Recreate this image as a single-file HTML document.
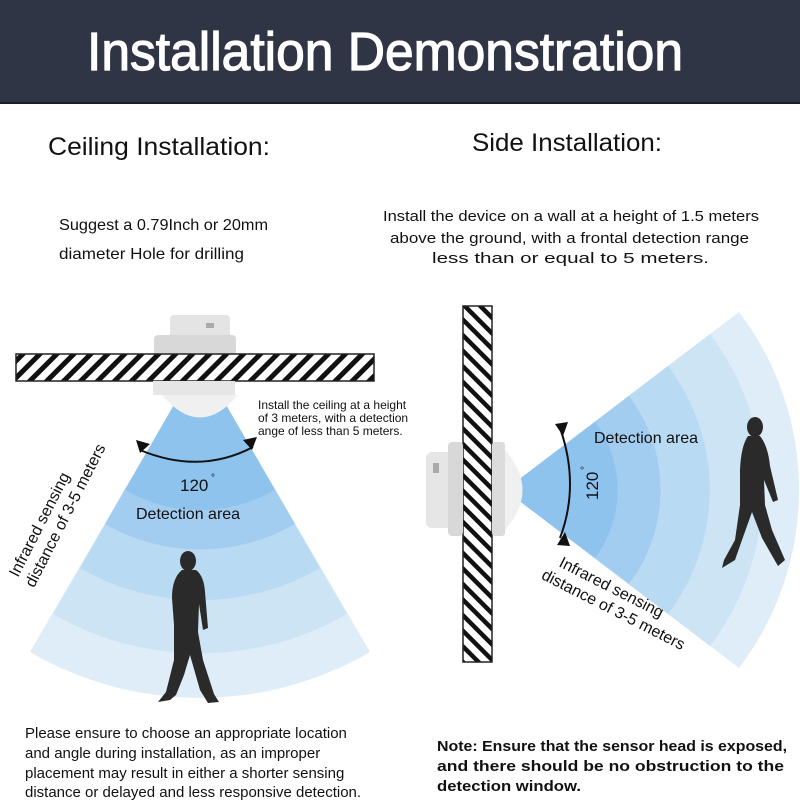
<!DOCTYPE html>
<html><head><meta charset="utf-8"><style>
html,body{margin:0;padding:0;background:#fff}
svg{display:block}
text{font-family:"Liberation Sans",sans-serif;fill:#111}
</style></head><body>
<svg width="800" height="800" viewBox="0 0 800 800" xmlns="http://www.w3.org/2000/svg">
<defs>
<pattern id="h1" width="12" height="12" patternUnits="userSpaceOnUse" patternTransform="rotate(45)">
<rect width="12" height="12" fill="#fff"/><rect width="5" height="12" fill="#111"/></pattern>
<pattern id="h2" width="11" height="11" patternUnits="userSpaceOnUse" patternTransform="rotate(-45)">
<rect width="11" height="11" fill="#fff"/><rect width="4.5" height="11" fill="#111"/></pattern>
</defs>
<rect x="0" y="0" width="800" height="103" fill="#303545"/>
<rect x="0" y="102" width="800" height="2" fill="#1a1d2a"/>
<text x="87" y="70" font-size="54" fill="#fff" style="fill:#fff;stroke:#fff;stroke-width:1.2" textLength="596" lengthAdjust="spacingAndGlyphs">Installation Demonstration</text>

<text x="48" y="155" font-size="25" textLength="222" lengthAdjust="spacingAndGlyphs">Ceiling Installation:</text>
<text x="472" y="151" font-size="25" textLength="190" lengthAdjust="spacingAndGlyphs">Side Installation:</text>
<text x="59" y="230" font-size="16" textLength="209" lengthAdjust="spacingAndGlyphs">Suggest a 0.79Inch or 20mm</text>
<text x="59" y="259" font-size="16" textLength="185" lengthAdjust="spacingAndGlyphs">diameter Hole for drilling</text>
<text x="383" y="221" font-size="15" textLength="376" lengthAdjust="spacingAndGlyphs">Install the device on a wall at a height of 1.5 meters</text>
<text x="390" y="243" font-size="15" textLength="359" lengthAdjust="spacingAndGlyphs">above the ground, with a frontal detection range</text>
<text x="432" y="263" font-size="15" textLength="277" lengthAdjust="spacingAndGlyphs">less than or equal to 5 meters.</text>

<!-- ceiling fan -->
<g transform="translate(200,360)">
<path d="M0 0 L-170 292 A338 338 0 0 0 170 292 Z" fill="#dfedf8"/>
<path d="M0 0 L-147 254 A294 294 0 0 0 147 254 Z" fill="#cde4f5"/>
<path d="M0 0 L-120 208 A240 240 0 0 0 120 208 Z" fill="#b9daf3"/>
<path d="M0 0 L-95 164 A190 190 0 0 0 95 164 Z" fill="#a3cdf0"/>
<path d="M0 0 L-75 130 A150 150 0 0 0 75 130 Z" fill="#8ec3ee"/>
</g>
<!-- ceiling sensor -->
<rect x="170" y="315" width="60" height="30" rx="4" fill="#e4e4e4"/>
<rect x="206" y="323" width="8" height="5" fill="#aaa"/>
<rect x="154" y="335" width="82" height="20" rx="4" fill="#d8d8d8"/>
<rect x="16" y="354" width="358" height="27" fill="url(#h1)" stroke="#222" stroke-width="1.5"/>
<rect x="153" y="381" width="82" height="14" fill="#e6e6e6"/>
<path d="M162 395 Q200 440 238 395 Z" fill="#f0f0f0"/>
<path d="M140 450 Q200 475 253 447" fill="none" stroke="#111" stroke-width="2"/>
<path d="M136 440 l14 4 l-10 9 Z M257 437 l-14 3 l9 10 Z" fill="#111"/>
<text x="180" y="491" font-size="17">120</text><text x="211" y="481" font-size="10">°</text>
<text x="136" y="519" font-size="16">Detection area</text>
<text x="258" y="409" font-size="12">Install the ceiling at a height</text>
<text x="258" y="422" font-size="12">of 3 meters, with a detection</text>
<text x="258" y="435" font-size="12">ange of less than 5 meters.</text>
<g transform="translate(18,578) rotate(-63)"><text font-size="16">Infrared sensing</text><text y="19" x="-2" font-size="16">distance of 3-5 meters</text></g>
<!-- person 1 -->
<g fill="#2a2a2a">
<ellipse cx="188" cy="561" rx="8" ry="10"/>
<path d="M182 570 L196 570 Q204 576 205 592 L208 628 L203 630 L199 604 L198 632 L203 660 L214 694 L219 702 L208 703 L200 690 L190 655 L184 675 L176 695 L170 700 L158 702 L166 692 L174 660 L174 625 L172 598 Q172 578 182 570 Z"/>
</g>

<!-- side fan -->
<g transform="translate(505,490)">
<path d="M0 0 L234 -178 A294 294 0 0 1 234 178 Z" fill="#dfedf8"/>
<path d="M0 0 L205 -156 A258 258 0 0 1 205 156 Z" fill="#cde4f5"/>
<path d="M0 0 L163 -124 A205 205 0 0 1 163 124 Z" fill="#b9daf3"/>
<path d="M0 0 L124 -94 A156 156 0 0 1 124 94 Z" fill="#a3cdf0"/>
<path d="M0 0 L90 -68 A113 113 0 0 1 90 68 Z" fill="#8ec3ee"/>
</g>
<rect x="463" y="306" width="29" height="356" fill="url(#h2)" stroke="#222" stroke-width="1.5"/>
<rect x="426" y="452" width="28" height="76" rx="6" fill="#e6e6e6"/>
<rect x="433" y="463" width="6" height="10" fill="#aaa"/>
<rect x="448" y="442" width="15" height="94" rx="4" fill="#d8d8d8"/>
<rect x="492" y="442" width="13" height="94" rx="3" fill="#dcdcdc"/>
<path d="M505 450 Q540 490 505 530 Z" fill="#f0f0f0"/>
<path d="M560 428 Q580 485 560 538" fill="none" stroke="#111" stroke-width="2"/>
<path d="M555 424 l8 12 l5-14 Z M557 545 l8-13 l5 14 Z" fill="#111"/>
<g transform="translate(598,500) rotate(-90)"><text font-size="17">120</text><text x="30" y="-10" font-size="10">°</text></g>
<text x="594" y="443" font-size="16">Detection area</text>
<g transform="translate(558,566) rotate(27)"><text font-size="16">Infrared sensing</text><text y="19" x="-10" font-size="16">distance of 3-5 meters</text></g>
<!-- person 2 -->
<g fill="#2a2a2a">
<ellipse cx="755" cy="427" rx="8" ry="10"/>
<path d="M748 436 L760 436 Q768 446 770 466 L778 500 L773 502 L764 480 L765 505 L772 530 L785 560 L778 566 L762 538 L752 512 L742 540 L735 560 L722 568 L724 560 L735 540 L740 505 L740 470 Q741 446 748 436 Z"/>
</g>

<text x="25" y="738" font-size="15">Please ensure to choose an appropriate location</text>
<text x="25" y="758" font-size="15">and angle during installation, as an improper</text>
<text x="25" y="778" font-size="15">placement may result in either a shorter sensing</text>
<text x="25" y="797" font-size="15">distance or delayed and less responsive detection.</text>
<text x="437" y="751" font-size="15" font-weight="bold" textLength="350" lengthAdjust="spacingAndGlyphs">Note: Ensure that the sensor head is exposed,</text>
<text x="437" y="771" font-size="15" font-weight="bold" textLength="347" lengthAdjust="spacingAndGlyphs">and there should be no obstruction to the</text>
<text x="437" y="791" font-size="15" font-weight="bold" textLength="144" lengthAdjust="spacingAndGlyphs">detection window.</text>
</svg>
</body></html>
